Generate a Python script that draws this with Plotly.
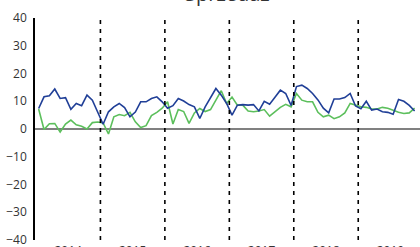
import plotly.graph_objects as go

years = ["2014", "2015", "2016", "2017", "2018", "2019"]
title_text = "Sprzedaż"

blue_values = [
    7.4, 11.6, 12.0, 14.4, 11.0, 11.3, 7.1, 9.2, 8.4, 12.2, 10.4, 6.2,
    1.7, 6.2, 8.0, 9.2, 7.7, 4.4, 6.1, 9.8, 9.8, 11.0, 11.6, 9.8,
    7.5, 8.4, 11.0, 10.1, 8.8, 8.0, 3.8, 8.0, 11.3, 14.6, 12.2, 9.2,
    5.0, 8.6, 8.8, 8.6, 8.8, 6.5, 10.0, 8.9, 11.4, 14.0, 12.8, 8.5,
    15.3, 15.8, 14.6, 12.8, 10.5, 7.5, 5.8, 10.8, 10.8, 11.3, 12.8, 8.3,
    7.3, 10.0, 6.8, 7.2, 6.2, 6.0, 5.3, 10.6, 10.0, 8.5, 6.5,
]
green_values = [
    7.2, -0.2, 1.9, 2.0, -1.1, 1.8, 3.2, 1.5, 1.0, 0.0, 2.3, 2.5,
    2.2, -1.8, 4.4, 5.2, 4.8, 6.0, 2.6, 0.5, 1.2, 4.8, 6.0, 7.5,
    9.8, 1.8, 7.0, 6.3, 2.0, 5.8, 7.4, 6.3, 7.0, 10.4, 13.8, 9.2,
    11.5, 8.6, 8.6, 6.5, 6.2, 6.5, 7.0, 4.6, 6.2, 7.8, 8.9, 8.0,
    12.8, 10.4, 9.8, 9.8, 6.0, 4.4, 5.0, 3.7, 4.4, 5.8, 9.2, 8.6,
    8.0, 7.8, 7.2, 7.2, 7.8, 7.5, 6.8, 6.0, 5.6, 5.8, 7.5,
]
y_ticks = [-40, -30, -20, -10, 0, 10, 20, 30, 40]

months = list(range(len(blue_values)))
year_centers = [12 * k + 5.5 for k in range(len(years))]
year_bounds = [12 * k - 0.5 for k in range(1, len(years))]

fig = go.Figure()
fig.add_trace(go.Scatter(x=months, y=green_values, mode="lines",
                         line=dict(color="#5cbf5c", width=1.6), showlegend=False))
fig.add_trace(go.Scatter(x=months, y=blue_values, mode="lines",
                         line=dict(color="#203f97", width=1.6), showlegend=False))

# zero line
fig.add_shape(type="line", xref="paper", yref="y", x0=0, x1=1, y0=0, y1=0,
              line=dict(color="#808080", width=2), layer="below")
for b in year_bounds:
    fig.add_shape(type="line", xref="x", yref="y", x0=b, x1=b, y0=-40, y1=40,
                  line=dict(color="black", width=1.6, dash="4px,5px"))

fig.add_annotation(text=title_text, xref="paper", yref="paper", x=0.5, y=1.042,
                   xanchor="center", yanchor="bottom", showarrow=False,
                   font=dict(family="Open Sans", size=20, color="#333333"))

fig.update_layout(
    width=420, height=247,
    margin=dict(l=35, r=0, t=18, b=7),
    plot_bgcolor="white", paper_bgcolor="white",
    font=dict(family="Open Sans", size=12, color="#333333"),
)
fig.update_xaxes(range=[-0.68, 71.0], tickvals=year_centers, ticktext=years,
                 showgrid=False, zeroline=False, showline=False, ticks="",
                 ticklabelstandoff=2, ticklabeloverflow="allow", automargin=False)
fig.update_yaxes(range=[-40, 40], tickvals=y_ticks, showgrid=False, zeroline=False,
                 showline=True, linecolor="black", linewidth=1.5, ticks="",
                 ticklabelstandoff=4, ticklabeloverflow="allow", automargin=False)

fig.write_html("out.html", config={"displayModeBar": False},
               post_script="document.body.style.margin='0';")
